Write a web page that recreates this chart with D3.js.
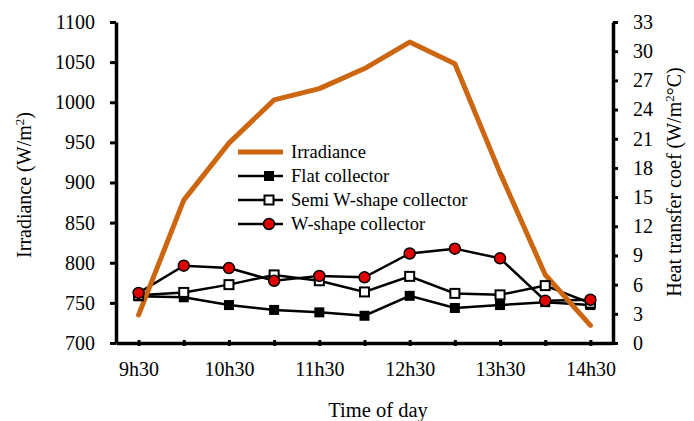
<!DOCTYPE html>
<html>
<head>
<meta charset="utf-8">
<script src="https://cdn.jsdelivr.net/npm/d3@7"></script>
<style>
  html, body { margin: 0; padding: 0; background: #fff; }
  svg { display: block; font-family: "Liberation Serif", "Times New Roman", serif; }
</style>
</head>
<body>
<svg id="chart" width="694" height="421"></svg>
<script>
// Half-hourly readings from 9h30 to 14h30
const times = ["9h30", "10h00", "10h30", "11h00", "11h30", "12h00", "12h30", "13h00", "13h30", "14h00", "14h30"];
const tickLabels = ["9h30", "10h30", "11h30", "12h30", "13h30", "14h30"];

// Solar irradiance (W/m²), left axis
const irradiance = [735, 878, 949, 1003, 1017, 1042, 1075, 1048, 912, 785, 722];

// Heat transfer coefficient (W/m²°C), right axis
const flatCollector = [4.8, 4.7, 3.9, 3.4, 3.15, 2.8, 4.85, 3.6, 3.9, 4.2, 3.9];
const semiWCollector = [4.9, 5.2, 6.0, 7.0, 6.4, 5.25, 6.85, 5.1, 4.95, 5.9, 4.1];
const wCollector = [5.15, 7.95, 7.7, 6.4, 6.9, 6.75, 9.2, 9.7, 8.7, 4.35, 4.45];

const leftTicks = d3.range(700, 1101, 50);
const rightTicks = d3.range(0, 34, 3);

const svg = d3.select("#chart");
const plotTop = 22, plotBottom = 343, plotLeft = 116, plotRight = 613;
const orange = "#cc6610";

const x = d3.scalePoint().domain(times).range([plotLeft, plotRight]).padding(0.5);
const yL = d3.scaleLinear().domain([700, 1100]).range([plotBottom, plotTop]);
const yR = d3.scaleLinear().domain([0, 33]).range([plotBottom, plotTop]);

function styleAxis(g) {
  g.select(".domain").attr("stroke", "#000").attr("stroke-width", 3.5);
  g.selectAll(".tick line").attr("stroke", "#000").attr("stroke-width", 3);
  g.selectAll(".tick text").attr("fill", "#000").style("font-size", "20px")
    .style("font-family", "Liberation Serif, Times New Roman, serif");
}

// Left axis
const gL = svg.append("g").attr("transform", `translate(${plotLeft},0)`)
  .call(d3.axisLeft(yL).tickValues(leftTicks).tickFormat(d3.format("d"))
    .tickSize(6).tickSizeOuter(0).tickPadding(15));
styleAxis(gL);

// Right axis
const gR = svg.append("g").attr("transform", `translate(${plotRight},0)`)
  .call(d3.axisRight(yR).tickValues(rightTicks).tickFormat(d3.format("d"))
    .tickSize(5).tickSizeOuter(0).tickPadding(15));
styleAxis(gR);

// Bottom axis: ticks at every half hour, labels on the hour-and-a-half
const gB = svg.append("g").attr("transform", `translate(0,${plotBottom})`)
  .call(d3.axisBottom(x).tickSize(3).tickSizeOuter(0)
    .tickFormat(d => tickLabels.includes(d) ? d : ""));
styleAxis(gB);
gB.selectAll(".tick line").attr("y1", -3).attr("y2", 3);
gB.selectAll(".tick text").attr("y", 33).attr("dy", 0);

// Axis titles
svg.append("text")
  .attr("transform", `translate(31,185) rotate(-90)`)
  .attr("text-anchor", "middle")
  .style("font-size", "20px")
  .html('Irradiance (W/m<tspan baseline-shift="super" font-size="13px">2</tspan>)');

svg.append("text")
  .attr("transform", `translate(681,182) rotate(-90)`)
  .attr("text-anchor", "middle")
  .style("font-size", "20px")
  .html('Heat transfer coef (W/m<tspan baseline-shift="super" font-size="13px">2</tspan>°C)');

svg.append("text")
  .attr("x", 378).attr("y", 417)
  .attr("text-anchor", "middle")
  .style("font-size", "20.5px")
  .text("Time of day");

// Collector series
const series = [
  { name: "Flat collector", values: flatCollector, marker: "filled" },
  { name: "Semi W-shape collector", values: semiWCollector, marker: "open" },
  { name: "W-shape collector", values: wCollector, marker: "circle" }
];

const lineR = d3.line().x((d, i) => x(times[i])).y(d => yR(d));
const lineL = d3.line().x((d, i) => x(times[i])).y(d => yL(d));

series.forEach(s => {
  svg.append("path").datum(s.values)
    .attr("d", lineR).attr("fill", "none")
    .attr("stroke", "#000").attr("stroke-width", 2.5);
});

svg.append("path").datum(irradiance)
  .attr("d", lineL).attr("fill", "none")
  .attr("stroke", orange).attr("stroke-width", 5)
  .attr("stroke-linejoin", "round").attr("stroke-linecap", "round");

function drawMarker(g, type, cx, cy) {
  if (type === "filled") {
    g.append("rect").attr("x", cx - 5).attr("y", cy - 5).attr("width", 10).attr("height", 10)
      .attr("fill", "#000");
  } else if (type === "open") {
    g.append("rect").attr("x", cx - 4.5).attr("y", cy - 4.5).attr("width", 9).attr("height", 9)
      .attr("fill", "#fff").attr("stroke", "#000").attr("stroke-width", 2);
  } else {
    g.append("circle").attr("cx", cx).attr("cy", cy).attr("r", 5.5)
      .attr("fill", "#e00000").attr("stroke", "#000").attr("stroke-width", 1.5);
  }
}

series.forEach(s => {
  const g = svg.append("g");
  s.values.forEach((v, i) => drawMarker(g, s.marker, x(times[i]), yR(v)));
});

// Legend
const legend = svg.append("g");
const legendItems = [
  { name: "Irradiance", marker: null },
  ...series
];
legendItems.forEach((item, i) => {
  const ly = 152 + i * 24;
  legend.append("line").attr("x1", 238).attr("x2", 283).attr("y1", ly).attr("y2", ly)
    .attr("stroke", item.marker ? "#000" : orange)
    .attr("stroke-width", item.marker ? 2.5 : 5);
  if (item.marker) drawMarker(legend, item.marker, 269, ly);
  legend.append("text").attr("x", 291).attr("y", ly).attr("dy", "0.33em")
    .style("font-size", "18.5px").text(item.name);
});
</script>
</body>
</html>
